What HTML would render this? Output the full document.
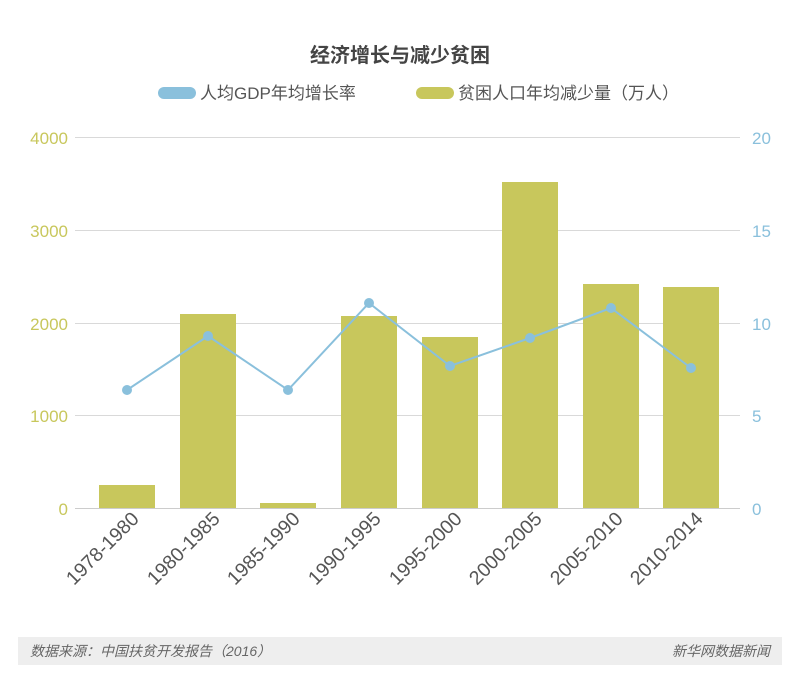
<!DOCTYPE html>
<html><head><meta charset="utf-8"><style>
body{margin:0;background:#fff;}
svg text{font-family:"Liberation Sans","Noto Sans CJK SC",sans-serif;}
</style></head><body>
<svg width="800" height="684" xmlns="http://www.w3.org/2000/svg">
<rect width="800" height="684" fill="#fff"/>
<text x="400" y="62" text-anchor="middle" font-size="20" font-weight="bold" fill="#444">经济增长与减少贫困</text>
<rect x="158" y="87" width="38" height="12" rx="6" fill="#8ac0dc"/>
<text x="200" y="99" font-size="17" fill="#555">人均GDP年均增长率</text>
<rect x="416" y="87" width="38" height="12" rx="6" fill="#c8c75c"/>
<text x="458" y="99" font-size="17" fill="#555">贫困人口年均减少量（万人）</text>
<g stroke="#d9d9d9" stroke-width="1">
<line x1="75" y1="137.5" x2="740" y2="137.5"/>
<line x1="75" y1="230.5" x2="740" y2="230.5"/>
<line x1="75" y1="323.5" x2="740" y2="323.5"/>
<line x1="75" y1="415.5" x2="740" y2="415.5"/>
</g>
<g font-size="17" fill="#c8c75c" text-anchor="end">
<text x="68" y="144">4000</text><text x="68" y="237">3000</text><text x="68" y="330">2000</text><text x="68" y="422">1000</text><text x="68" y="515">0</text>
</g>
<g font-size="17" fill="#8ac0dc">
<text x="752" y="144">20</text><text x="752" y="237">15</text><text x="752" y="330">10</text><text x="752" y="422">5</text><text x="752" y="515">0</text>
</g>
<g fill="#c8c75c">
<rect x="99" y="485" width="56" height="23"/>
<rect x="180" y="314" width="56" height="194"/>
<rect x="260" y="503" width="56" height="5"/>
<rect x="341" y="316" width="56" height="192"/>
<rect x="422" y="337" width="56" height="171"/>
<rect x="502" y="182" width="56" height="326"/>
<rect x="583" y="284" width="56" height="224"/>
<rect x="663" y="287" width="56" height="221"/>
</g>
<line x1="75" y1="508.5" x2="740" y2="508.5" stroke="#ccc"/>
<polyline fill="none" stroke="#8ac0dc" stroke-width="2" points="127,390 208,336 288,390 369,303 450,366 530,338 611,308 691,368"/>
<g fill="#8ac0dc">
<circle cx="127" cy="390" r="5"/><circle cx="208" cy="336" r="5"/><circle cx="288" cy="390" r="5"/><circle cx="369" cy="303" r="5"/><circle cx="450" cy="366" r="5"/><circle cx="530" cy="338" r="5"/><circle cx="611" cy="308" r="5"/><circle cx="691" cy="368" r="5"/>
</g>
<g font-size="19.5" fill="#555" text-anchor="end">
<text transform="translate(140,520) rotate(-45)">1978-1980</text>
<text transform="translate(221,520) rotate(-45)">1980-1985</text>
<text transform="translate(301,520) rotate(-45)">1985-1990</text>
<text transform="translate(382,520) rotate(-45)">1990-1995</text>
<text transform="translate(463,520) rotate(-45)">1995-2000</text>
<text transform="translate(543,520) rotate(-45)">2000-2005</text>
<text transform="translate(624,520) rotate(-45)">2005-2010</text>
<text transform="translate(704,520) rotate(-45)">2010-2014</text>
</g>
<rect x="18" y="637" width="764" height="28" fill="#eeeeee"/>
<text x="30" y="656" font-size="14" font-style="italic" fill="#666">数据来源：中国扶贫开发报告（2016）</text>
<text x="770" y="656" font-size="14" font-style="italic" fill="#666" text-anchor="end">新华网数据新闻</text>
</svg>
</body></html>
